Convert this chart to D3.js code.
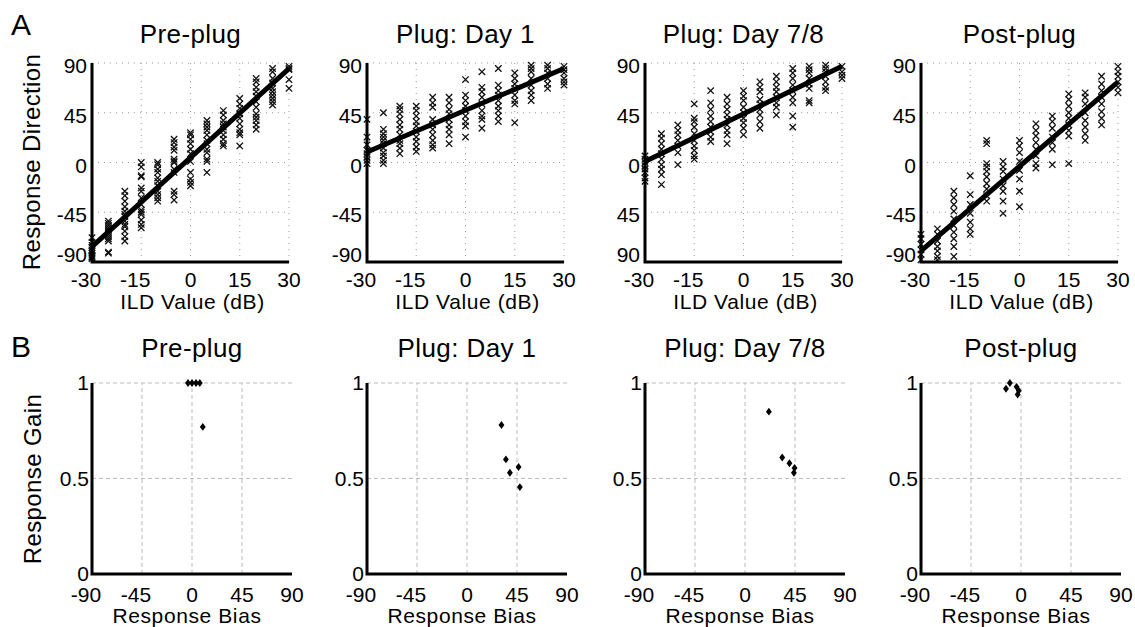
<!DOCTYPE html>
<html>
<head>
<meta charset="utf-8">
<script src="https://cdn.jsdelivr.net/npm/d3@7"></script>
<style>
  body { margin: 0; background: #fff; }
  svg { display: block; font-family: "Liberation Sans", Arial, Helvetica, sans-serif; }
</style>
</head>
<body>
<svg id="chart" width="1135" height="627"></svg>
<script>
// ILD values presented (dB)
const ild = [-30, -25, -20, -15, -10, -5, 0, 5, 10, 15, 20, 25, 30];
const titles = ["Pre-plug", "Plug: Day 1", "Plug: Day 7/8", "Post-plug"];

// response direction per ILD column
const preResp = [
  [-68, -72, -75, -77, -79, -80, -82, -84, -85, -86, -87],
  [-53, -55, -57, -59, -61, -63, -65, -67, -69, -71, -81, -82],
  [-26, -30, -35, -40, -44, -47, -49, -53, -56, -58, -62, -67, -71],
  [0, -4, -12, -13, -23, -26, -32, -38, -43, -45, -47, -52, -56, -59],
  [0, -2, -6, -9, -14, -17, -21, -26, -29, -32, -35],
  [21, 18, 14, 11, 3, 1, 0, -6, -9, -26, -29, -34],
  [27, 25, 21, 17, 12, 8, 1, -9, -15, -18, -21],
  [38, 35, 32, 29, 25, 20, 17, 12, 9, 3, 1, -9],
  [47, 43, 38, 35, 32, 29, 25, 21, 17, 15],
  [58, 53, 49, 44, 40, 35, 30, 27, 25, 15],
  [76, 73, 68, 64, 60, 55, 50, 44, 41, 38, 34, 30],
  [85, 82, 76, 72, 67, 64, 61, 58, 55, 52],
  [87, 85, 84, 75, 67]
];
const day1Resp = [
  [39, 23, 16, 11, 8, 5, 2, -1],
  [45, 30, 26, 23, 20, 17, 13, 9, 6, 2, -1],
  [51, 48, 44, 39, 34, 30, 25, 20, 17, 13, 8],
  [51, 47, 42, 37, 33, 28, 23, 19, 14, 10],
  [59, 54, 50, 39, 34, 30, 25, 20, 16, 13],
  [59, 54, 48, 44, 39, 34, 30, 25, 17],
  [75, 61, 56, 51, 47, 42, 37, 33, 23],
  [82, 68, 64, 59, 53, 47, 42, 39, 31],
  [85, 70, 65, 61, 56, 51, 47, 42, 37],
  [81, 76, 71, 67, 61, 56, 53, 36],
  [88, 85, 82, 76, 70, 65, 61, 56],
  [88, 85, 81, 76, 71, 67],
  [87, 84, 81, 76, 73, 70]
];
const day78Resp = [
  [6, 3, 0, -3, -6, -9, -14, -17],
  [26, 22, 17, 12, 8, 3, -2, -6, -11, -20],
  [34, 29, 25, 20, 15, 9, -2],
  [53, 40, 37, 32, 26, 20, 15, 11, 6, 3],
  [65, 54, 48, 42, 37, 32, 28, 23, 19],
  [59, 53, 48, 43, 39, 34, 29, 25, 17],
  [65, 60, 56, 50, 45, 40, 36, 31, 25],
  [73, 68, 64, 57, 53, 48, 43, 37, 31],
  [78, 73, 68, 64, 59, 54, 50, 43],
  [85, 81, 76, 70, 65, 59, 54, 42, 32],
  [87, 84, 81, 76, 71, 67, 56, 54],
  [88, 85, 82, 78, 73, 68, 65],
  [87, 82, 79, 76]
];
const postResp = [
  [-65, -69, -74, -79, -83, -88],
  [-60, -65, -71, -76, -80, -85, -88],
  [-26, -32, -38, -44, -51, -57, -63, -69, -76, -85],
  [-12, -29, -38, -46, -54, -60, -65],
  [20, 17, -1, -4, -8, -13, -19, -24, -30, -35],
  [1, -4, -8, -15, -21, -26, -35, -46],
  [20, 15, 9, 1, -7, -15, -26, -40],
  [35, 29, 24, 18, 12, 6, -1, -5],
  [42, 37, 31, 23, 18, 12, -2],
  [62, 57, 51, 45, 40, 34, 29, 24, -1],
  [63, 59, 53, 45, 38, 32, 26, 20],
  [78, 71, 65, 59, 53, 46, 40, 34],
  [87, 82, 78, 73, 68, 63]
];
const responses = [preResp, day1Resp, day78Resp, postResp];

// fitted line ends at ILD -30 and +30
const fitStart = [-76, 9.5, 1, -80];
const fitEnd = [85, 85, 87, 73];

// bias / gain per subject
const preBias = [-3.6, 0, 3.6, 7, 9.7];
const preGain = [1, 1, 1, 1, 0.77];
const day1Bias = [31, 35, 38.6, 46.4, 47.6];
const day1Gain = [0.78, 0.60, 0.53, 0.56, 0.455];
const day78Bias = [21.5, 33.5, 40, 44.6, 44];
const day78Gain = [0.85, 0.61, 0.58, 0.555, 0.53];
const postBias = [-13.5, -10, -4, -2, -3];
const postGain = [0.97, 1.0, 0.98, 0.96, 0.94];
const biasSets = [preBias, day1Bias, day78Bias, postBias];
const gainSets = [preGain, day1Gain, day78Gain, postGain];

// tick values and labels
const ildTicks = [-30, -15, 0, 15, 30];
const dirTicks = [90, 45, 0, -45, -90];
const dirLabels = [
  ["90", "45", "0", "-45", "-90"],
  ["90", "45", "0", "-45", "-90"],
  ["90", "45", "0", "45", "90"],
  ["90", "45", "0", "-45", "-90"]
];
const biasTicks = [-90, -45, 0, 45, 90];
const gainTicks = [1, 0.5, 0];
const gainLabels = ["1", "0.5", "0"];

const svg = d3.select("#chart");

const topLefts = [92, 367, 645, 921];
const botLefts = [92, 367, 645, 921];

// panel labels
svg.append("text").attr("x", 11).attr("y", 35).attr("font-size", 30).text("A");
svg.append("text").attr("x", 11).attr("y", 357).attr("font-size", 30).text("B");

function negShift(s) { return s.startsWith("-") ? -6 : 0; }

/////// row A ///////
titles.forEach((title, p) => {
  const x = d3.scaleLinear().domain([-30, 30]).range([topLefts[p], topLefts[p] + 197]);
  const y = d3.scaleLinear().domain([-90, 90]).range([262, 63]);
  const g = svg.append("g");

  // dotted grid
  g.selectAll(".vg").data(ildTicks.slice(1)).join("line")
    .attr("x1", d => x(d)).attr("x2", d => x(d)).attr("y1", y(-90)).attr("y2", y(90))
    .attr("stroke", "#999").attr("stroke-width", 1).attr("stroke-dasharray", "1,5");
  g.selectAll(".hg").data(dirTicks.slice(0, 4)).join("line")
    .attr("x1", x(-30)).attr("x2", x(30)).attr("y1", d => y(d)).attr("y2", d => y(d))
    .attr("stroke", "#999").attr("stroke-width", 1).attr("stroke-dasharray", "1,5");

  // x marks
  const pts = [];
  responses[p].forEach((col, i) => col.forEach(v => pts.push([ild[i], v])));
  g.selectAll(".mk").data(pts).join("path")
    .attr("d", d => {
      const cx = x(d[0]), cy = y(d[1]), r = 3.2;
      return `M${cx - r},${cy - r}L${cx + r},${cy + r}M${cx - r},${cy + r}L${cx + r},${cy - r}`;
    })
    .attr("stroke", "#111").attr("stroke-width", 1.3).attr("fill", "none");

  // fit line
  g.append("path")
    .datum([[-30, fitStart[p]], [30, fitEnd[p]]])
    .attr("d", d3.line().x(d => x(d[0])).y(d => y(d[1])))
    .attr("stroke", "#000").attr("stroke-width", 5).attr("fill", "none");

  // axes
  g.append("path")
    .attr("d", `M${x(-30)},${y(90)}V${y(-90)}H${x(30)}`)
    .attr("stroke", "#000").attr("stroke-width", 3).attr("fill", "none");

  g.selectAll(".xt").data(ildTicks).join("text")
    .attr("x", d => x(d)).attr("y", 287).attr("dx", d => negShift(String(d)))
    .attr("text-anchor", "middle").attr("font-size", 21).text(d => String(d));

  g.selectAll(".yt").data(dirTicks).join("text")
    .attr("x", x(-30) - 5).attr("y", d => y(d) + (d === -90 ? 0 : 10))
    .attr("text-anchor", "end").attr("font-size", 21)
    .text((d, i) => dirLabels[p][i]);

  g.append("text").attr("x", (x(-30) + x(30)) / 2 + 2).attr("y", 309)
    .attr("text-anchor", "middle").attr("font-size", 21).attr("letter-spacing", 0.6)
    .text("ILD Value (dB)");

  svg.append("text").attr("x", (x(-30) + x(30)) / 2).attr("y", 43)
    .attr("text-anchor", "middle").attr("font-size", 26).attr("letter-spacing", 0.4).text(title);
});

svg.append("text").attr("transform", "translate(40,162) rotate(-90)")
  .attr("text-anchor", "middle").attr("font-size", 24).attr("letter-spacing", 0.4).text("Response Direction");

/////// row B ///////
titles.forEach((title, p) => {
  const x = d3.scaleLinear().domain([-90, 90]).range([botLefts[p], botLefts[p] + 200]);
  const y = d3.scaleLinear().domain([0, 1]).range([574, 383]);
  const g = svg.append("g");

  g.selectAll(".vg").data(biasTicks.slice(1, 4)).join("line")
    .attr("x1", d => x(d)).attr("x2", d => x(d)).attr("y1", y(0)).attr("y2", y(1))
    .attr("stroke", "#bbb").attr("stroke-width", 1).attr("stroke-dasharray", "4,3");
  g.selectAll(".hg").data([1, 0.5]).join("line")
    .attr("x1", x(-90)).attr("x2", x(90)).attr("y1", d => y(d)).attr("y2", d => y(d))
    .attr("stroke", "#bbb").attr("stroke-width", 1).attr("stroke-dasharray", "4,3");

  const pts = biasSets[p].map((b, i) => [b, gainSets[p][i]]);
  g.selectAll(".dm").data(pts).join("path")
    .attr("d", d3.symbol().type(d3.symbolDiamond2).size(30))
    .attr("transform", d => `translate(${x(d[0])},${y(d[1])}) scale(0.85,1.15)`)
    .attr("fill", "#000");

  g.append("path")
    .attr("d", `M${x(-90)},${y(1)}V${y(0)}H${x(90)}`)
    .attr("stroke", "#000").attr("stroke-width", 3).attr("fill", "none");

  g.selectAll(".xt").data(biasTicks).join("text")
    .attr("x", d => x(d)).attr("y", 602).attr("dx", d => negShift(String(d)))
    .attr("text-anchor", "middle").attr("font-size", 21).text(d => String(d));

  g.selectAll(".yt").data(gainTicks).join("text")
    .attr("x", x(-90) - 3).attr("y", d => y(d) + 7)
    .attr("text-anchor", "end").attr("font-size", 21)
    .text((d, i) => gainLabels[i]);

  g.append("text").attr("x", (x(-90) + x(90)) / 2 - 5).attr("y", 623)
    .attr("text-anchor", "middle").attr("font-size", 21).attr("letter-spacing", 0.6)
    .text("Response Bias");

  svg.append("text").attr("x", (x(-90) + x(90)) / 2).attr("y", 357)
    .attr("text-anchor", "middle").attr("font-size", 26).attr("letter-spacing", 0.4).text(title);
});

svg.append("text").attr("transform", "translate(41,479) rotate(-90)")
  .attr("text-anchor", "middle").attr("font-size", 24).attr("letter-spacing", 0.4).text("Response Gain");
</script>
</body>
</html>
